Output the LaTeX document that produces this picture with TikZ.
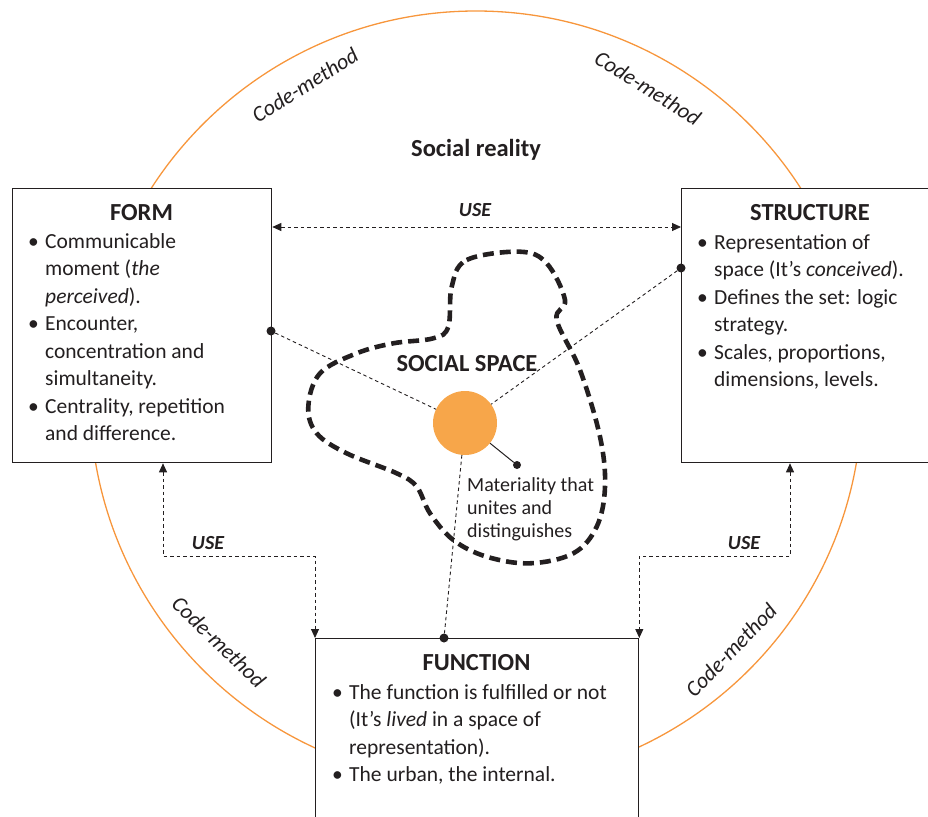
\documentclass[tikz,border=0pt]{standalone}
\usepackage{fontspec}
\setmainfont{Carlito}
\usetikzlibrary{arrows.meta}
\definecolor{ink}{RGB}{35,31,32}
\definecolor{orng}{RGB}{247,150,60}
\definecolor{orfill}{RGB}{247,166,74}
\tikzset{
  box/.style={draw=ink, line width=1.3pt, fill=white, inner sep=0pt, anchor=north west},
  ttl/.style={font=\fontsize{24.5}{29}\selectfont\bfseries, text=ink, anchor=base, inner sep=0pt},
  body/.style={font=\fontsize{21.5}{27.5}\selectfont, text=ink, anchor=base west, inner sep=0pt},
  small/.style={font=\fontsize{20}{23.2}\selectfont, text=ink, anchor=base west, inner sep=0pt},
  conn/.style={draw=ink, line width=0.9pt, dash pattern=on 3.5pt off 3pt},
  usearr/.style={conn, {Triangle[length=9pt,width=8pt]}-{Triangle[length=9pt,width=8pt]}},
  dot/.style={circle, fill=ink, inner sep=0pt, minimum size=9pt},
  codem/.style={font=\fontsize{22}{26}\selectfont\itshape, text=ink, inner sep=0pt},
  uselbl/.style={font=\fontsize{20}{24}\selectfont\bfseries\itshape, text=ink, anchor=base, inner sep=0pt},
  blob/.style={draw=ink, line width=4.6pt, dash pattern=on 11pt off 6pt},
}
\newcommand{\bl}{\makebox[17pt][l]{•}}
\begin{document}
\begin{tikzpicture}[x=1pt,y=-1pt]
\useasboundingbox (0,0) rectangle (928,816);
\clip (0,0) rectangle (928,816);
% social reality circle
\draw[orng, line width=1.3pt] (476,397) circle[radius=386pt];
% boxes
\node[box, minimum width=259pt, minimum height=274pt] (form) at (12,188) {};
\node[box, minimum width=258pt, minimum height=274pt] (struct) at (681,188) {};
\node[box, minimum width=323pt, minimum height=200pt] (func) at (315,638) {};
% social space blob
\draw[blob] plot[smooth cycle, tension=0.6] coordinates {
 (451.7,286.7) (466.7,260) (520,251.7) (546.7,263.3) (565,300) (556.7,320)
 (580,370) (600,436.7) (605,486.7) (596.7,526.7) (573.3,553.3) (530,563.3)
 (486.7,556.7) (453.3,540) (430,513.3) (416.7,486.7) (396.7,473.3)
 (346.7,453.3) (316.7,433.3) (308.3,406.7) (320,373.3) (356.7,353.3)
 (393.3,343.3) (433.3,338.3) (448.3,326.7)};
% materiality circle
\node[circle, fill=orfill, minimum size=64pt, inner sep=0pt] (mat) at (465,423) {};
% dots
\node[dot] (fdot) at (271,331) {};
\node[dot] (sdot) at (681,268) {};
\node[dot] (udot) at (444,638) {};
\node[dot, minimum size=8pt] (mdot) at (517,465) {};
\draw[conn] (fdot) -- (mat);
\draw[conn] (sdot) -- (mat);
\draw[conn] (udot) -- (mat);
\draw[draw=ink, line width=1pt] (mat) -- (mdot);
% USE connectors
\coordinate (lu) at (163,556);
\coordinate (ru) at (790,556);
\coordinate (tu) at (475,227);
\draw[usearr] (form.east |- tu) -- (struct.west |- tu);
\draw[usearr] (form.south -| lu) -- (lu) -| (func.north west);
\draw[usearr] (struct.south -| ru) -- (ru) -| (func.north east);
\node[uselbl] (usetop) at (475,216) {USE};
\node[uselbl] (useleft) at (208,549) {USE};
\node[uselbl] (useright) at (744,549) {USE};
% labels
\node[ttl] (reality) at (476,156) {Social reality};
\node[ttl] (socsp) at (467,371.7) {SOCIAL SPACE};
\node[codem, rotate=32] (cm1) at (305,85) {Code-method};
\node[codem, rotate=-32] (cm2) at (648,88) {Code-method};
\node[codem, rotate=-44] (cm3) at (219,642) {Code-method};
\node[codem, rotate=46] (cm4) at (731,650) {Code-method};
\node[small] (mattext) at (467,491) {\begin{tabular}[t]{@{}l@{}}Materiality that\\ unites and\\ distinguishes\end{tabular}};
% box titles
\node[ttl] (formt) at (141.5,220) {FORM};
\node[ttl] (structt) at (810,220) {STRUCTURE};
\node[ttl] (funct) at (476.5,670) {FUNCTION};
% box bodies
\node[body] (formb) at (28,248) {\begin{tabular}[t]{@{}l@{}l@{}}
\bl & Communicable\\
 & moment (\textit{the}\\
 & \textit{perceived}).\\
\bl & Encounter,\\
 & concentration and\\
 & simultaneity.\\
\bl & Centrality, repetition\\
 & and difference.
\end{tabular}};
\node[body] (structb) at (697,249) {\begin{tabular}[t]{@{}l@{}l@{}}
\bl & Representation of\\
 & space (It’s \textit{conceived}).\\
\bl & Defines the set: logic\\
 & strategy.\\
\bl & Scales, proportions,\\
 & dimensions, levels.
\end{tabular}};
\node[body] (funcb) at (332,699) {\begin{tabular}[t]{@{}l@{}l@{}}
\bl & The function is fulfilled or not\\
 & (It’s \textit{lived} in a space of\\
 & representation).\\
\bl & The urban, the internal.
\end{tabular}};
\end{tikzpicture}
\end{document}
